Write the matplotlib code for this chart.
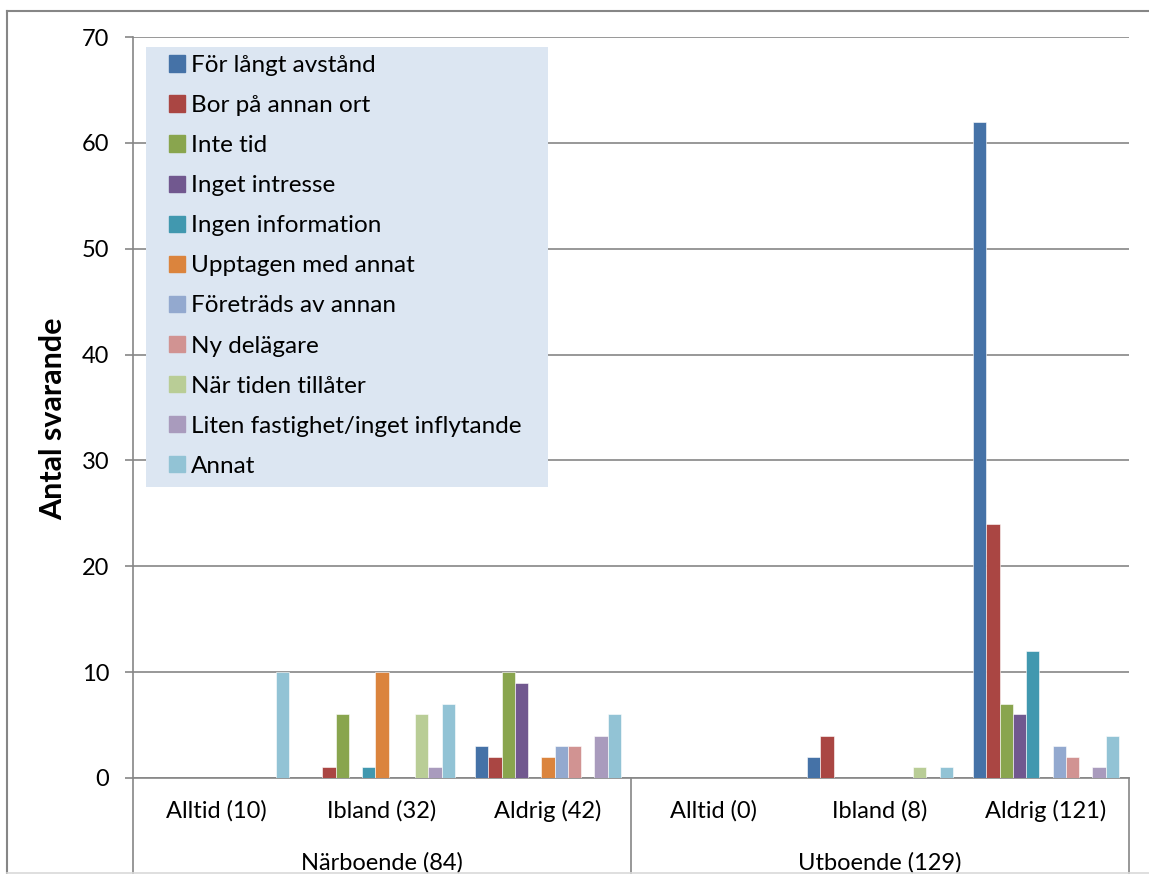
import matplotlib
matplotlib.use('Agg')
import matplotlib.pyplot as plt
import matplotlib.patches as mpatches
from matplotlib.lines import Line2D
import numpy as np

plt.rcParams['font.family'] = ['Lato', 'DejaVu Sans']

grupper = ['Alltid (10)', 'Ibland (32)', 'Aldrig (42)', 'Alltid (0)', 'Ibland (8)', 'Aldrig (121)']
huvudgrupper = ['Närboende (84)', 'Utboende (129)']

serier = ['För långt avstånd', 'Bor på annan ort', 'Inte tid', 'Inget intresse',
          'Ingen information', 'Upptagen med annat', 'Företräds av annan', 'Ny delägare',
          'När tiden tillåter', 'Liten fastighet/inget inflytande', 'Annat']

farger = ['#4572A7', '#AA4643', '#89A54E', '#71588F', '#4198AF', '#DB843D',
          '#93A9CF', '#D19392', '#B9CD96', '#A99BBD', '#92C3D5']

# varden per serie, en siffra per grupp
for_langt = [0, 0, 3, 0, 2, 62]
bor_annan = [0, 1, 2, 0, 4, 24]
inte_tid = [0, 6, 10, 0, 0, 7]
inget_intresse = [0, 0, 9, 0, 0, 6]
ingen_info = [0, 1, 0, 0, 0, 12]
upptagen = [0, 10, 2, 0, 0, 0]
foretrads = [0, 0, 3, 0, 0, 3]
ny_delagare = [0, 0, 3, 0, 0, 2]
nar_tiden = [0, 6, 0, 0, 1, 0]
liten_fast = [0, 1, 4, 0, 0, 1]
annat = [10, 7, 6, 0, 1, 4]

varden = [for_langt, bor_annan, inte_tid, inget_intresse, ingen_info, upptagen,
          foretrads, ny_delagare, nar_tiden, liten_fast, annat]

W, H = 1149, 874
fig = plt.figure(figsize=(W / 100, H / 100), dpi=100)
ax = fig.add_axes([133 / W, (H - 778) / H, (1129 - 133) / W, (778 - 37) / H])

x = np.arange(len(grupper))
w = 0.08
for i, rad in enumerate(varden):
  ax.bar(x + (i - 5) * w, rad, width=w, color=farger[i], edgecolor='white',
         linewidth=0.4, label=serier[i], zorder=3)

ax.set_xlim(-0.5, len(grupper) - 0.5)
ax.set_ylim(0, 70)
ax.set_yticks(range(0, 71, 10))
ax.yaxis.grid(True, color='#868686', linewidth=1.2, zorder=0)
for s in ['top', 'right']:
  ax.spines[s].set_visible(False)
ax.spines['left'].set_color('#868686')
ax.spines['bottom'].set_color('#868686')
ax.spines['left'].set_linewidth(1.2)
ax.spines['bottom'].set_linewidth(1.2)
ax.tick_params(axis='y', length=6, width=1.2, color='#868686', pad=11, labelsize=17)
ax.set_xticks(x)
ax.set_xticklabels(grupper, fontsize=17)
ax.tick_params(axis='x', length=0, pad=16)

for gx, namn in zip([1, 4], huvudgrupper):
  ax.text(gx, -0.115, namn, transform=ax.get_xaxis_transform(), ha='center',
          va='center', fontsize=17)

# skiljelinjer under axeln
for xp in [-0.5, 2.5, 5.5]:
  ax.plot([xp, xp], [0, -0.14], transform=ax.get_xaxis_transform(),
          color='#868686', linewidth=1.2, clip_on=False)

ax.set_ylabel('Antal svarande', fontsize=22, fontweight='bold')
ax.yaxis.set_label_coords(-0.066, 0.4845)

# legend med bakgrund
bg = mpatches.Rectangle((146 / W, (H - 487) / H), (548 - 146) / W, (487 - 47) / H,
                        transform=fig.transFigure, facecolor='#DCE6F2',
                        edgecolor='none', zorder=4)
fig.patches.append(bg)
handtag = [mpatches.Patch(color=farger[i]) for i in range(len(serier))]
leg = fig.legend(handtag, serier, loc='upper left',
                 bbox_to_anchor=(169 / W, (H - 55) / H), frameon=False,
                 fontsize=17.5, handlelength=0.66, handleheight=0.66,
                 handletextpad=0.25, labelspacing=0.785, borderpad=0,
                 borderaxespad=0)
leg.set_zorder(5)

# yttre ram
fig.add_artist(Line2D([7 / W, 7 / W], [(H - 873) / H, (H - 11) / H],
                      transform=fig.transFigure, color='#868686', linewidth=1.5))
fig.add_artist(Line2D([7 / W, 1], [(H - 11) / H, (H - 11) / H],
                      transform=fig.transFigure, color='#868686', linewidth=1.5))
fig.add_artist(Line2D([7 / W, 1], [(H - 873) / H, (H - 873) / H],
                      transform=fig.transFigure, color='#D9D9D9', linewidth=1.2))

fig.savefig('out.png', dpi=100)
